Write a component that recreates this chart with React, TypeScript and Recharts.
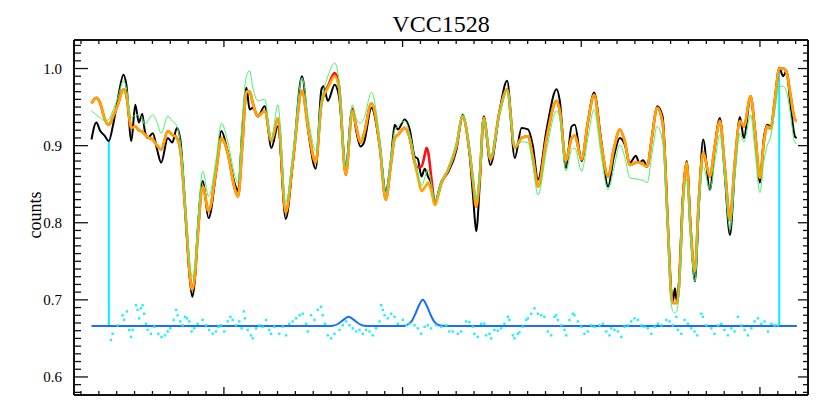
import React from 'react';
import { ComposedChart, Line, Scatter, XAxis, YAxis, ReferenceLine } from 'recharts';

// Wavelength grid (Angstrom) for spectrum series
const wave = [
  4825.9, 4828.6, 4830.8, 4833.2, 4835.6, 4837.8, 4840.6, 4843.8, 4845.4, 4848.2,
  4850.4, 4852.4, 4854.3, 4855.6, 4857.4, 4860.2, 4862.6, 4864.9, 4868.6, 4871.1,
  4873.7, 4875.6, 4879.0, 4880.8, 4882.3, 4883.9, 4885.4, 4888.2, 4891.4, 4895.8,
  4898.6, 4902.2, 4906.0, 4907.9, 4910.3, 4912.6, 4914.4, 4916.2, 4919.0, 4922.8,
  4926.6, 4930.2, 4934.6, 4938.6, 4943.7, 4947.6, 4951.4, 4954.6, 4955.8, 4958.2,
  4962.0, 4964.4, 4968.2, 4971.9, 4974.0, 4976.4, 4978.4, 4982.6, 4987.2, 4990.6,
  4993.4, 4995.6, 4997.4, 5001.2, 5004.0, 5006.8, 5008.5, 5010.6, 5012.4, 5013.4,
  5014.2, 5016.2, 5018.0, 5021.8, 5025.4, 5030.2, 5033.6, 5037.6, 5039.6, 5041.2,
  5043.2, 5045.4, 5049.2, 5054.4, 5058.5, 5062.8, 5066.6, 5070.2, 5072.9, 5075.8,
  5080.6, 5086.2, 5088.0, 5091.4, 5094.6, 5096.4, 5100.2, 5103.7, 5107.2, 5111.0,
  5115.0, 5118.2, 5121.6, 5124.4, 5127.2, 5130.6, 5132.4, 5134.6, 5136.9, 5139.5,
  5142.5, 5145.5, 5148.6, 5150.4, 5151.3, 5152.4, 5153.5, 5154.6, 5156.9, 5159.0,
  5161.1, 5163.6, 5165.8, 5168.2, 5172.0, 5174.8, 5177.6, 5180.4, 5183.2, 5186.0,
  5188.8, 5191.0, 5194.8, 5197.2, 5200.0, 5202.2, 5204.1, 5206.0, 5208.4, 5210.8,
  5213.0, 5214.9, 5216.8, 5219.6, 5220.6,
];

// Observed spectrum (black)
const galaxyFlux = [
  0.908, 0.930, 0.919, 0.913, 0.906, 0.925, 0.960, 0.992, 0.979, 0.906,
  0.953, 0.930, 0.941, 0.921, 0.910, 0.916, 0.895, 0.878, 0.910, 0.904,
  0.923, 0.908, 0.791, 0.730, 0.704, 0.730, 0.791, 0.854, 0.806, 0.869,
  0.919, 0.891, 0.851, 0.841, 0.921, 0.975, 0.947, 0.949, 0.938, 0.951,
  0.897, 0.925, 0.805, 0.878, 0.990, 0.912, 0.870, 0.973, 0.977, 0.958,
  0.979, 0.964, 0.874, 0.947, 0.920, 0.899, 0.904, 0.949, 0.899, 0.841,
  0.880, 0.927, 0.921, 0.934, 0.921, 0.886, 0.883, 0.860, 0.870, 0.866,
  0.860, 0.850, 0.826, 0.854, 0.865, 0.895, 0.940, 0.886, 0.830, 0.789,
  0.850, 0.938, 0.875, 0.947, 0.984, 0.884, 0.923, 0.921, 0.900, 0.856,
  0.921, 0.973, 0.958, 0.871, 0.925, 0.927, 0.880, 0.930, 0.969, 0.910,
  0.847, 0.885, 0.910, 0.901, 0.878, 0.887, 0.878, 0.881, 0.873, 0.910,
  0.951, 0.938, 0.791, 0.710, 0.698, 0.715, 0.698, 0.720, 0.835, 0.880,
  0.800, 0.724, 0.820, 0.908, 0.843, 0.900, 0.936, 0.860, 0.784, 0.870,
  0.937, 0.910, 0.964, 0.920, 0.852, 0.910, 0.927, 0.925, 0.960, 1.001,
  0.990, 0.997, 0.960, 0.912, 0.910,
];

// Best fit (orange)
const fitFlux = [
  0.955, 0.962, 0.955, 0.935, 0.927, 0.937, 0.953, 0.973, 0.965, 0.923,
  0.925, 0.920, 0.918, 0.915, 0.911, 0.908, 0.900, 0.895, 0.919, 0.914,
  0.910, 0.895, 0.795, 0.735, 0.713, 0.735, 0.785, 0.847, 0.815, 0.870,
  0.910, 0.890, 0.845, 0.834, 0.900, 0.970, 0.970, 0.955, 0.938, 0.945,
  0.906, 0.935, 0.813, 0.880, 0.971, 0.915, 0.878, 0.955, 0.965, 0.975,
  0.990, 0.975, 0.862, 0.945, 0.925, 0.904, 0.915, 0.955, 0.900, 0.830,
  0.875, 0.910, 0.914, 0.923, 0.910, 0.878, 0.860, 0.841, 0.846, 0.849,
  0.852, 0.840, 0.823, 0.852, 0.868, 0.900, 0.938, 0.890, 0.850, 0.821,
  0.860, 0.936, 0.882, 0.945, 0.973, 0.897, 0.910, 0.912, 0.885, 0.847,
  0.910, 0.958, 0.945, 0.880, 0.910, 0.913, 0.882, 0.930, 0.966, 0.905,
  0.860, 0.895, 0.921, 0.905, 0.875, 0.878, 0.878, 0.876, 0.873, 0.910,
  0.949, 0.930, 0.790, 0.705, 0.696, 0.696, 0.696, 0.715, 0.830, 0.878,
  0.795, 0.737, 0.830, 0.891, 0.860, 0.900, 0.932, 0.870, 0.804, 0.880,
  0.932, 0.925, 0.964, 0.920, 0.858, 0.905, 0.925, 0.922, 0.960, 1.000,
  1.000, 0.995, 0.970, 0.934, 0.932,
];

// Fit including emission (red)
const emissionFitFlux = [
  0.955, 0.962, 0.955, 0.935, 0.927, 0.937, 0.953, 0.973, 0.965, 0.923,
  0.925, 0.920, 0.918, 0.915, 0.911, 0.908, 0.900, 0.895, 0.919, 0.914,
  0.910, 0.895, 0.795, 0.735, 0.713, 0.735, 0.785, 0.847, 0.815, 0.870,
  0.910, 0.890, 0.845, 0.834, 0.900, 0.970, 0.970, 0.955, 0.938, 0.945,
  0.906, 0.935, 0.813, 0.880, 0.971, 0.915, 0.878, 0.955, 0.965, 0.977,
  0.994, 0.978, 0.862, 0.948, 0.925, 0.904, 0.915, 0.955, 0.900, 0.830,
  0.875, 0.910, 0.914, 0.923, 0.910, 0.878, 0.872, 0.873, 0.888, 0.897,
  0.893, 0.856, 0.826, 0.852, 0.868, 0.900, 0.938, 0.890, 0.850, 0.821,
  0.860, 0.936, 0.882, 0.945, 0.973, 0.897, 0.910, 0.912, 0.885, 0.847,
  0.910, 0.958, 0.945, 0.880, 0.910, 0.913, 0.882, 0.930, 0.966, 0.905,
  0.860, 0.895, 0.921, 0.905, 0.875, 0.878, 0.878, 0.876, 0.873, 0.910,
  0.949, 0.930, 0.790, 0.705, 0.696, 0.696, 0.696, 0.715, 0.830, 0.878,
  0.795, 0.737, 0.830, 0.891, 0.860, 0.900, 0.932, 0.870, 0.804, 0.880,
  0.932, 0.925, 0.964, 0.920, 0.858, 0.905, 0.925, 0.922, 0.960, 1.000,
  1.000, 0.995, 0.970, 0.934, 0.932,
];

// Template (green)
const templateFlux = [
  0.945, 0.940, 0.936, 0.932, 0.934, 0.945, 0.962, 0.984, 0.975, 0.936,
  0.940, 0.940, 0.936, 0.927, 0.932, 0.940, 0.930, 0.916, 0.938, 0.932,
  0.925, 0.905, 0.805, 0.750, 0.730, 0.750, 0.800, 0.867, 0.834, 0.885,
  0.929, 0.905, 0.862, 0.852, 0.935, 0.990, 0.997, 0.975, 0.958, 0.960,
  0.908, 0.953, 0.826, 0.890, 0.988, 0.930, 0.893, 0.960, 0.972, 0.990,
  1.007, 0.985, 0.873, 0.953, 0.935, 0.929, 0.935, 0.969, 0.910, 0.839,
  0.885, 0.920, 0.925, 0.932, 0.915, 0.882, 0.866, 0.848, 0.858, 0.866,
  0.869, 0.850, 0.828, 0.855, 0.870, 0.905, 0.942, 0.895, 0.855, 0.830,
  0.870, 0.934, 0.884, 0.940, 0.971, 0.899, 0.905, 0.904, 0.875, 0.836,
  0.895, 0.945, 0.935, 0.867, 0.895, 0.897, 0.867, 0.910, 0.947, 0.890,
  0.843, 0.870, 0.901, 0.885, 0.858, 0.857, 0.856, 0.855, 0.852, 0.888,
  0.925, 0.905, 0.785, 0.695, 0.685, 0.683, 0.685, 0.705, 0.820, 0.856,
  0.785, 0.724, 0.815, 0.873, 0.843, 0.880, 0.914, 0.855, 0.791, 0.860,
  0.916, 0.905, 0.940, 0.895, 0.839, 0.880, 0.900, 0.912, 0.945, 0.977,
  0.977, 0.970, 0.945, 0.904, 0.903,
];

// Residuals (cyan dots), offset to the baseline
const residWave = [
  4836.8, 4837.7, 4840.5, 4843.3, 4844.2, 4845.7, 4847.0, 4848.0, 4848.9, 4850.8,
  4851.7, 4852.6, 4853.6, 4854.5, 4855.4, 4856.4, 4857.3, 4859.2, 4861.0, 4863.3,
  4865.1, 4867.0, 4868.5, 4870.0, 4871.9, 4873.2, 4874.1, 4875.6, 4876.9, 4878.2,
  4879.3, 4880.6, 4881.9, 4883.4, 4885.3, 4888.1, 4890.0, 4891.8, 4893.7, 4895.6,
  4896.9, 4898.4, 4900.2, 4902.1, 4903.6, 4904.9, 4906.8, 4908.6, 4909.9, 4911.1,
  4911.8, 4913.3, 4915.2, 4916.1, 4918.0, 4919.8, 4921.7, 4923.6, 4925.4, 4926.4,
  4928.2, 4931.0, 4932.9, 4934.8, 4936.6, 4938.5, 4940.4, 4942.3, 4944.1, 4946.0,
  4946.9, 4948.8, 4950.7, 4952.5, 4954.4, 4955.3, 4956.6, 4958.1, 4960.0, 4961.9,
  4964.7, 4966.5, 4968.4, 4970.3, 4972.1, 4974.0, 4975.9, 4977.7, 4979.6, 4981.5,
  4983.3, 4985.2, 4987.1, 4988.0, 4988.9, 4989.9, 4991.7, 4993.6, 4995.5, 4997.3,
  5000.1, 5002.0, 5003.9, 5006.7, 5008.5, 5010.4, 5012.3, 5014.1, 5016.0, 5018.8,
  5021.6, 5024.4, 5026.2, 5028.1, 5030.9, 5032.8, 5035.6, 5037.4, 5039.3, 5040.2,
  5042.1, 5044.0, 5045.8, 5046.8, 5048.6, 5049.6, 5051.4, 5053.3, 5055.2, 5057.0,
  5058.9, 5059.8, 5061.7, 5062.6, 5064.5, 5065.4, 5067.3, 5069.2, 5070.1, 5072.0,
  5073.8, 5075.7, 5077.6, 5079.4, 5081.3, 5083.2, 5085.0, 5086.0, 5086.9, 5088.8,
  5090.6, 5091.6, 5093.4, 5095.3, 5096.2, 5098.1, 5100.0, 5101.8, 5103.7, 5105.6,
  5107.4, 5110.2, 5112.1, 5114.0, 5115.8, 5116.8, 5118.6, 5120.5, 5122.4, 5124.2,
  5126.1, 5128.0, 5129.8, 5131.7, 5133.6, 5135.4, 5137.3, 5139.2, 5141.0, 5142.9,
  5144.8, 5147.6, 5149.4, 5151.3, 5153.2, 5154.1, 5156.0, 5157.8, 5159.7, 5161.6,
  5163.4, 5164.9, 5167.2, 5168.1, 5170.0, 5172.8, 5174.6, 5176.5, 5178.4, 5180.2,
  5182.1, 5184.0, 5185.8, 5187.7, 5189.6, 5191.4, 5193.3, 5195.2, 5197.0, 5198.9,
  5200.8, 5202.6, 5204.5, 5206.4, 5208.2, 5210.1,
];
const residFlux = [
  0.648, 0.656, 0.667, 0.680, 0.674, 0.685, 0.661, 0.652, 0.661, 0.693,
  0.687, 0.676, 0.689, 0.693, 0.682, 0.669, 0.661, 0.656, 0.665, 0.656,
  0.652, 0.654, 0.659, 0.663, 0.674, 0.687, 0.680, 0.672, 0.667, 0.678,
  0.676, 0.672, 0.659, 0.663, 0.669, 0.674, 0.667, 0.661, 0.656, 0.659,
  0.665, 0.667, 0.659, 0.672, 0.678, 0.674, 0.667, 0.672, 0.663, 0.685,
  0.676, 0.661, 0.654, 0.650, 0.663, 0.667, 0.665, 0.674, 0.661, 0.656,
  0.665, 0.656, 0.665, 0.654, 0.669, 0.672, 0.676, 0.680, 0.682, 0.669,
  0.659, 0.680, 0.674, 0.687, 0.691, 0.680, 0.669, 0.654, 0.650, 0.656,
  0.661, 0.667, 0.672, 0.667, 0.663, 0.659, 0.661, 0.656, 0.661, 0.659,
  0.654, 0.663, 0.672, 0.693, 0.687, 0.680, 0.676, 0.682, 0.678, 0.669,
  0.674, 0.667, 0.669, 0.667, 0.663, 0.656, 0.665, 0.667, 0.663, 0.667,
  0.665, 0.667, 0.659, 0.659, 0.656, 0.659, 0.672, 0.671, 0.665, 0.656,
  0.652, 0.669, 0.669, 0.654, 0.656, 0.650, 0.661, 0.660, 0.663, 0.669,
  0.678, 0.674, 0.654, 0.650, 0.656, 0.658, 0.665, 0.674, 0.676, 0.682,
  0.689, 0.682, 0.680, 0.678, 0.659, 0.654, 0.678, 0.680, 0.674, 0.667,
  0.661, 0.654, 0.674, 0.682, 0.680, 0.672, 0.665, 0.656, 0.659, 0.667,
  0.665, 0.667, 0.669, 0.659, 0.654, 0.663, 0.661, 0.659, 0.652, 0.665,
  0.667, 0.672, 0.676, 0.674, 0.667, 0.665, 0.663, 0.656, 0.665, 0.669,
  0.667, 0.674, 0.672, 0.667, 0.678, 0.661, 0.656, 0.674, 0.669, 0.663,
  0.659, 0.654, 0.682, 0.678, 0.667, 0.663, 0.656, 0.667, 0.669, 0.661,
  0.654, 0.663, 0.659, 0.678, 0.667, 0.661, 0.654, 0.663, 0.672, 0.676,
  0.669, 0.672, 0.659, 0.669, 0.667, 0.667,
];

// Emission-line gaussians (blue), on the residual baseline
const gaussWave = [
  4825.9, 4958.0, 4961.0, 4964.0, 4966.0, 4968.0, 4969.8, 4971.6, 4973.6, 4975.6,
  4978.5, 4982.0, 5000.0, 5002.0, 5005.0, 5007.0, 5009.0, 5011.3, 5013.6, 5015.6,
  5017.6, 5020.5, 5024.0, 5220.7,
];
const gaussFlux = [
  0.666, 0.666, 0.6665, 0.669, 0.6725, 0.676, 0.678, 0.676, 0.6725, 0.669,
  0.6665, 0.666, 0.666, 0.667, 0.672, 0.681, 0.692, 0.700, 0.692, 0.681,
  0.672, 0.667, 0.666, 0.666,
];

// Fit-range limits (cyan verticals)
const maskWave = [4835.6, 5210.8];
const maskLow = [0.666, 0.666];
const maskHigh = [0.906, 1.001];

// Axis ticks
const xTicks = [
  4820, 4830, 4840, 4850, 4860, 4870, 4880, 4890, 4900, 4910, 4920, 4930, 4940, 4950,
  4960, 4970, 4980, 4990, 5000, 5010, 5020, 5030, 5040, 5050, 5060, 5070, 5080, 5090,
  5100, 5110, 5120, 5130, 5140, 5150, 5160, 5170, 5180, 5190, 5200, 5210, 5220,
];
const xMajorTicks = [4900, 5000, 5100, 5200];
const yTicks = [
  0.58, 0.59, 0.6, 0.61, 0.62, 0.63, 0.64, 0.65, 0.66, 0.67, 0.68, 0.69, 0.7, 0.71,
  0.72, 0.73, 0.74, 0.75, 0.76, 0.77, 0.78, 0.79, 0.8, 0.81, 0.82, 0.83, 0.84, 0.85,
  0.86, 0.87, 0.88, 0.89, 0.9, 0.91, 0.92, 0.93, 0.94, 0.95, 0.96, 0.97, 0.98, 0.99,
  1.0, 1.01, 1.02, 1.03,
];
const yMajorTicks = [0.6, 0.7, 0.8, 0.9, 1.0];
const yMajorLabels = ['0.6', '0.7', '0.8', '0.9', '1.0'];

const X_DOMAIN: [number, number] = [4816.1, 5226.9];
const Y_DOMAIN: [number, number] = [0.5766, 1.037];
const FONT = '"Liberation Serif", "Times New Roman", serif';
const AXIS_COLOR = '#111';

const spectrumRows = wave.map((w, i) => ({
  wave: w,
  galaxy: galaxyFlux[i],
  fit: fitFlux[i],
  emission: emissionFitFlux[i],
  template: templateFlux[i],
}));
const residRows = residWave.map((w, i) => ({ wave: w, resid: residFlux[i] }));
const gaussRows = gaussWave.map((w, i) => ({ wave: w, gauss: gaussFlux[i] }));

const majorIndex = (v: number, list: number[]) => list.findIndex((m) => Math.abs(m - v) < 1e-6);

const BottomTick = (p: any) => {
  const major = majorIndex(p.payload.value, xMajorTicks) >= 0;
  const len = major ? 8 : 4;
  return <line x1={p.x} x2={p.x} y1={p.y} y2={p.y - len} stroke={AXIS_COLOR} strokeWidth={1.3} />;
};
const TopTick = (p: any) => {
  const major = majorIndex(p.payload.value, xMajorTicks) >= 0;
  const len = major ? 7 : 4;
  return <line x1={p.x} x2={p.x} y1={p.y} y2={p.y + len} stroke={AXIS_COLOR} strokeWidth={1.3} />;
};
const LeftTick = (p: any) => {
  const idx = majorIndex(p.payload.value, yMajorTicks);
  const len = idx >= 0 ? 14 : 7;
  return (
    <g>
      <line x1={p.x} x2={p.x + len} y1={p.y} y2={p.y} stroke={AXIS_COLOR} strokeWidth={1.3} />
      {idx >= 0 && (
        <text x={p.x - 12} y={p.y} dy="0.35em" textAnchor="end" fontSize={15} fontFamily={FONT} fill="#000">
          {yMajorLabels[idx]}
        </text>
      )}
    </g>
  );
};
const RightTick = (p: any) => {
  const idx = majorIndex(p.payload.value, yMajorTicks);
  const len = idx >= 0 ? 10 : 5;
  return <line x1={p.x} x2={p.x - len} y1={p.y} y2={p.y} stroke={AXIS_COLOR} strokeWidth={1.3} />;
};

const ResidDot = (p: any) => (
  <rect x={p.cx - 1.2} y={p.cy - 1.2} width={2.4} height={2.4} fill="#22eeff" />
);

export default function App() {
  return (
    <div style={{ position: 'fixed', left: 0, top: 0, width: 822, height: 411, background: '#fff' }}>
      <ComposedChart width={822} height={411} margin={{ top: 39, right: 13, bottom: 15, left: 73 }}>
        <XAxis
          xAxisId={0}
          type="number"
          dataKey="wave"
          domain={X_DOMAIN}
          allowDataOverflow
          ticks={xTicks}
          interval={0}
          height={1}
          tickSize={0}
          tickMargin={0}
          tickLine={false}
          axisLine={{ stroke: AXIS_COLOR, strokeWidth: 2 }}
          tick={BottomTick}
        />
        <XAxis
          xAxisId="top"
          orientation="top"
          type="number"
          dataKey="wave"
          domain={X_DOMAIN}
          allowDataOverflow
          ticks={xTicks}
          interval={0}
          height={1}
          tickSize={0}
          tickMargin={0}
          tickLine={false}
          axisLine={{ stroke: AXIS_COLOR, strokeWidth: 2 }}
          tick={TopTick}
        />
        <YAxis
          yAxisId={0}
          type="number"
          domain={Y_DOMAIN}
          allowDataOverflow
          ticks={yTicks}
          interval={0}
          width={1}
          tickSize={0}
          tickMargin={0}
          tickLine={false}
          axisLine={{ stroke: AXIS_COLOR, strokeWidth: 2 }}
          tick={LeftTick}
        />
        <YAxis
          yAxisId="right"
          orientation="right"
          type="number"
          domain={Y_DOMAIN}
          allowDataOverflow
          ticks={yTicks}
          interval={0}
          width={1}
          tickSize={0}
          tickMargin={0}
          tickLine={false}
          axisLine={{ stroke: AXIS_COLOR, strokeWidth: 2 }}
          tick={RightTick}
        />
        {maskWave.map((w, i) => (
          <ReferenceLine
            key={'mask' + i}
            segment={[{ x: w, y: maskLow[i] }, { x: w, y: maskHigh[i] }]}
            stroke="#00f0ff"
            strokeWidth={2}
          />
        ))}
        <Scatter data={residRows} dataKey="resid" shape={ResidDot} isAnimationActive={false} />
        <Line data={gaussRows} dataKey="gauss" type="monotone" stroke="#1a6dff" strokeWidth={2} dot={false} isAnimationActive={false} />
        <Line data={spectrumRows} dataKey="galaxy" type="monotone" stroke="#000" strokeWidth={2} dot={false} isAnimationActive={false} />
        <Line data={spectrumRows} dataKey="emission" type="monotone" stroke="#ff1010" strokeWidth={2.6} dot={false} isAnimationActive={false} />
        <Line data={spectrumRows} dataKey="fit" type="monotone" stroke="#ffa500" strokeWidth={2.6} dot={false} isAnimationActive={false} />
        <Line data={spectrumRows} dataKey="template" type="monotone" stroke="#4cf06a" strokeWidth={1} dot={false} isAnimationActive={false} />
      </ComposedChart>
      <svg width={822} height={411} style={{ position: 'absolute', left: 0, top: 0, pointerEvents: 'none' }}>
        <text x={441} y={32} textAnchor="middle" fontSize={24} fontFamily={FONT} fill="#000">
          VCC1528
        </text>
        <text transform="translate(41,215) rotate(-90)" textAnchor="middle" fontSize={18} fontFamily={FONT} fill="#000">
          counts
        </text>
      </svg>
    </div>
  );
}
